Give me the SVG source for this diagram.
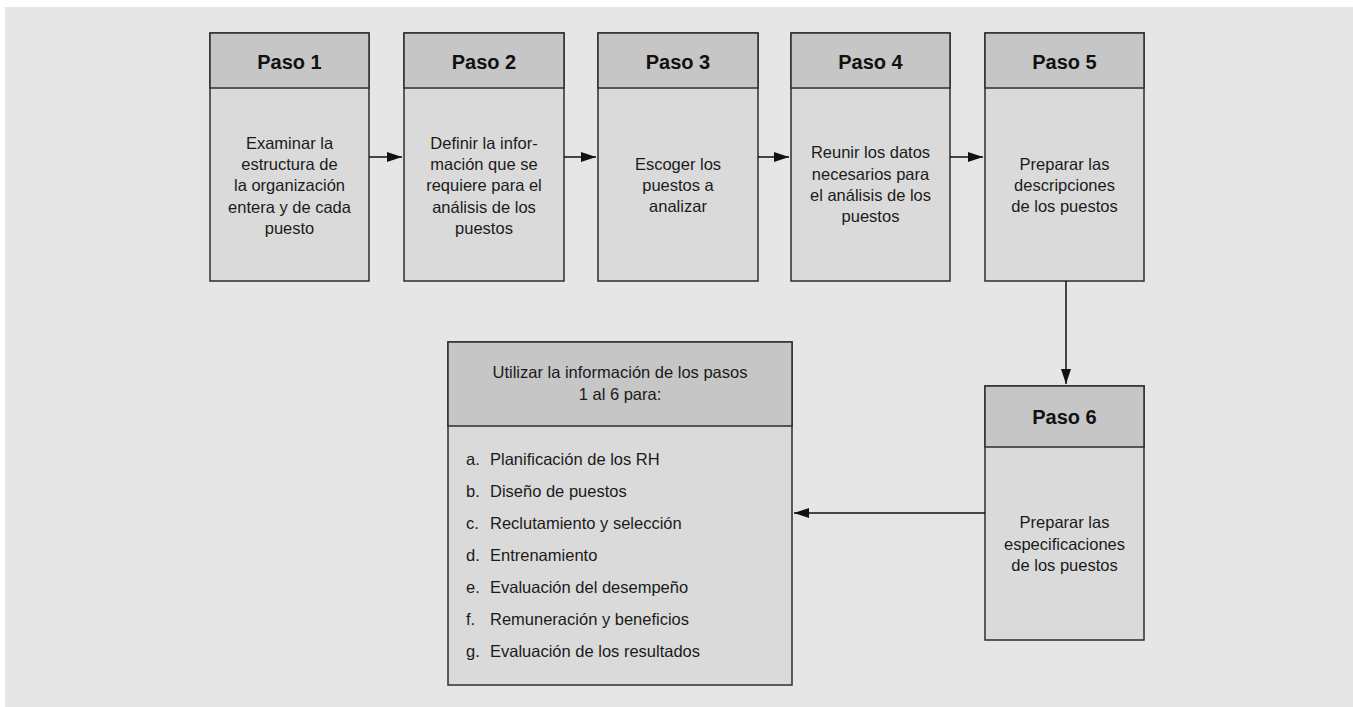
<svg xmlns="http://www.w3.org/2000/svg" width="1353" height="707" viewBox="0 0 1353 707">
<defs>
<style>
.bg{fill:#e6e6e6}
.hd{fill:#c6c6c6;stroke:#2e2e2e;stroke-width:1.5}
.bd{fill:#dadada;stroke:#2e2e2e;stroke-width:1.5}
.ttl{font-family:"Liberation Sans",Arial,sans-serif;font-weight:bold;font-size:20px;fill:#111;text-anchor:middle}
.txt{font-family:"Liberation Sans",Arial,sans-serif;font-size:16.5px;fill:#1a1a1a;text-anchor:middle}
.lst{font-family:"Liberation Sans",Arial,sans-serif;font-size:16.5px;fill:#1a1a1a}
.con{stroke:#111;stroke-width:1.5;fill:none;marker-end:url(#ah)}
</style>
<marker id="ah" markerUnits="userSpaceOnUse" markerWidth="16" markerHeight="12" refX="15" refY="6" orient="auto">
<path d="M0,1 L15,6 L0,11 Z" fill="#111"/>
</marker>
</defs>
<rect x="0" y="0" width="1353" height="707" fill="#fff"/>
<rect class="bg" x="5" y="7" width="1348" height="700"/>

<g id="paso1">
<rect class="bd" x="210" y="33" width="159" height="248"/>
<rect class="hd" x="210" y="33" width="159" height="55"/>
<text class="ttl" x="289.5" y="69">Paso 1</text>
<text class="txt" x="289.5" y="149">Examinar la</text>
<text class="txt" x="289.5" y="170.2">estructura de</text>
<text class="txt" x="289.5" y="191.4">la organización</text>
<text class="txt" x="289.5" y="212.6">entera y de cada</text>
<text class="txt" x="289.5" y="233.8">puesto</text>
</g>

<g id="paso2">
<rect class="bd" x="404" y="33" width="160" height="248"/>
<rect class="hd" x="404" y="33" width="160" height="55"/>
<text class="ttl" x="484" y="69">Paso 2</text>
<text class="txt" x="484" y="149">Definir la infor-</text>
<text class="txt" x="484" y="170.2">mación que se</text>
<text class="txt" x="484" y="191.4">requiere para el</text>
<text class="txt" x="484" y="212.6">análisis de los</text>
<text class="txt" x="484" y="233.8">puestos</text>
</g>

<g id="paso3">
<rect class="bd" x="598" y="33" width="160" height="248"/>
<rect class="hd" x="598" y="33" width="160" height="55"/>
<text class="ttl" x="678" y="69">Paso 3</text>
<text class="txt" x="678" y="169.5">Escoger los</text>
<text class="txt" x="678" y="190.8">puestos a</text>
<text class="txt" x="678" y="212">analizar</text>
</g>

<g id="paso4">
<rect class="bd" x="791" y="33" width="159" height="248"/>
<rect class="hd" x="791" y="33" width="159" height="55"/>
<text class="ttl" x="870.5" y="69">Paso 4</text>
<text class="txt" x="870.5" y="158.3">Reunir los datos</text>
<text class="txt" x="870.5" y="179.6">necesarios para</text>
<text class="txt" x="870.5" y="200.9">el análisis de los</text>
<text class="txt" x="870.5" y="222.2">puestos</text>
</g>

<g id="paso5">
<rect class="bd" x="985" y="33" width="159" height="248"/>
<rect class="hd" x="985" y="33" width="159" height="55"/>
<text class="ttl" x="1064.5" y="69">Paso 5</text>
<text class="txt" x="1064.5" y="169.5">Preparar las</text>
<text class="txt" x="1064.5" y="190.8">descripciones</text>
<text class="txt" x="1064.5" y="212">de los puestos</text>
</g>

<g id="paso6">
<rect class="bd" x="985" y="386" width="159" height="254"/>
<rect class="hd" x="985" y="386" width="159" height="61"/>
<text class="ttl" x="1064.5" y="424">Paso 6</text>
<text class="txt" x="1064.5" y="528">Preparar las</text>
<text class="txt" x="1064.5" y="549.5">especificaciones</text>
<text class="txt" x="1064.5" y="571">de los puestos</text>
</g>

<g id="uso">
<rect class="bd" x="448" y="342" width="344" height="343"/>
<rect class="hd" x="448" y="342" width="344" height="84"/>
<text class="txt" x="620" y="378.3">Utilizar la información de los pasos</text>
<text class="txt" x="620" y="400.3">1 al 6 para:</text>
<g class="lst">
<text x="466" y="465">a.</text><text x="490" y="465">Planificación de los RH</text>
<text x="466" y="497">b.</text><text x="490" y="497">Diseño de puestos</text>
<text x="466" y="529">c.</text><text x="490" y="529">Reclutamiento y selección</text>
<text x="466" y="561">d.</text><text x="490" y="561">Entrenamiento</text>
<text x="466" y="593">e.</text><text x="490" y="593">Evaluación del desempeño</text>
<text x="466" y="625">f.</text><text x="490" y="625">Remuneración y beneficios</text>
<text x="466" y="657">g.</text><text x="490" y="657">Evaluación de los resultados</text>
</g>
</g>

<g id="connectors">
<line class="con" x1="369" y1="157" x2="402" y2="157"/>
<line class="con" x1="564" y1="157" x2="596" y2="157"/>
<line class="con" x1="758" y1="157" x2="789" y2="157"/>
<line class="con" x1="950" y1="157" x2="983" y2="157"/>
<line class="con" x1="1066" y1="281" x2="1066" y2="384"/>
<line class="con" x1="985" y1="513" x2="794" y2="513"/>
</g>
</svg>
